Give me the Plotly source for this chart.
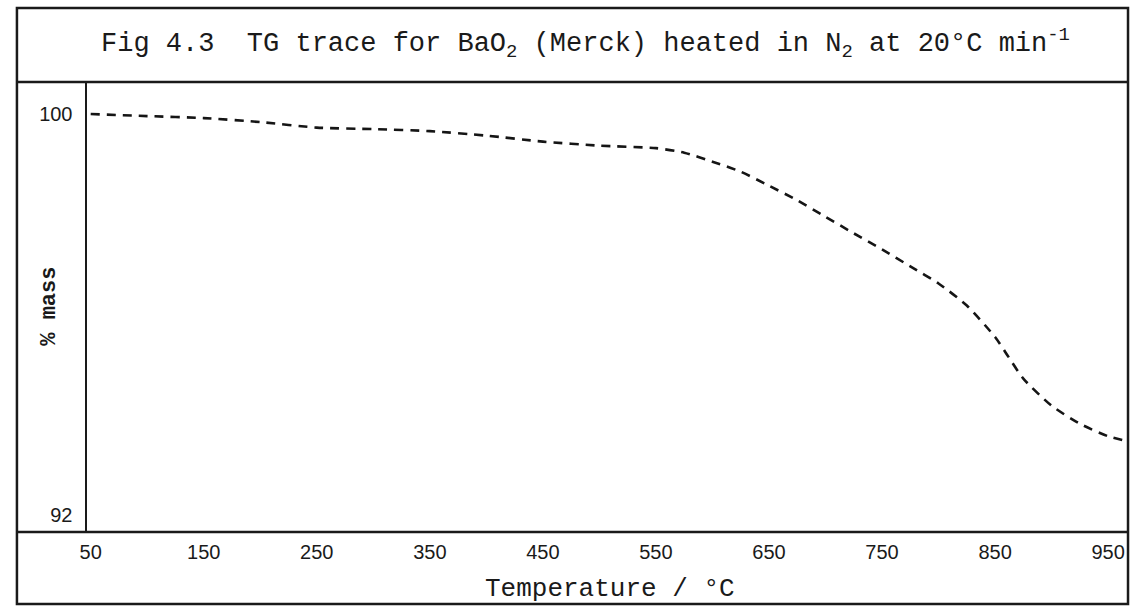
import plotly.graph_objects as go

# Data
temperature = [50, 100, 150, 200, 250, 300, 350, 400, 450, 500, 550, 575, 600, 625, 650,
               675, 700, 725, 750, 775, 800, 825, 850, 862, 875, 900, 925, 950, 967]
mass_pct = [100.0, 99.96, 99.92, 99.84, 99.73, 99.70, 99.66, 99.57, 99.45, 99.37, 99.32,
            99.23, 99.05, 98.85, 98.57, 98.28, 97.95, 97.62, 97.30, 96.96, 96.62, 96.18,
            95.55, 95.15, 94.72, 94.18, 93.82, 93.57, 93.47]

x_ticks = [50, 150, 250, 350, 450, 550, 650, 750, 850, 950]
y_ticks = [92, 100]

W, H = 1131, 606
def px(x): return x / W
def py(y): return 1 - y / H

fig = go.Figure()
fig.add_trace(go.Scatter(
    x=temperature, y=mass_pct, mode="lines",
    line=dict(color="#151515", width=2.6, dash="9px,7px", shape="spline", smoothing=0.6),
    hoverinfo="skip", showlegend=False))

mono = "Liberation Mono, Courier New, monospace"
sans = "Liberation Sans, Arial, sans-serif"

fig.update_layout(
    width=W, height=H,
    margin=dict(l=0, r=0, t=0, b=0),
    paper_bgcolor="white", plot_bgcolor="white",
    xaxis=dict(domain=[px(80), px(1128)], range=[46.3, 967.6],
               tickvals=x_ticks, ticktext=[str(v) for v in x_ticks],
               showgrid=False, zeroline=False, showline=False, ticks="",
               tickfont=dict(family=sans, size=20, color="#1a1a1a"), ticklabelstandoff=6),
    yaxis=dict(domain=[py(532), py(82)], range=[91.66, 100.64],
               tickvals=y_ticks, ticktext=[str(v) for v in y_ticks],
               showgrid=False, zeroline=False, showline=True, linecolor="#1a1a1a", linewidth=2,
               ticks="", tickfont=dict(family=sans, size=20, color="#1a1a1a"), ticklabelstandoff=8),
)

line = dict(color="#1a1a1a", width=2.5)
shapes = [
    # outer border
    dict(type="rect", xref="paper", yref="paper", x0=px(10), x1=px(1128), y0=py(604), y1=py(8), line=line),
    # title box bottom
    dict(type="line", xref="paper", yref="paper", x0=px(10), x1=px(1128), y0=py(82), y1=py(82), line=line),
    # x-axis band top
    dict(type="line", xref="paper", yref="paper", x0=px(10), x1=px(1128), y0=py(532), y1=py(532), line=line),
]
fig.update_layout(shapes=shapes)

fig.add_annotation(xref="paper", yref="paper", x=px(582), y=py(44), showarrow=False,
                   text="Fig 4.3  TG trace for BaO<sub>2</sub> (Merck) heated in N<sub>2</sub> at 20°C min<sup>-1</sup>",
                   font=dict(family=mono, size=27, color="#1a1a1a"), xanchor="center", yanchor="middle")
fig.add_annotation(xref="paper", yref="paper", x=px(607), y=py(589), showarrow=False,
                   text="Temperature / °C", font=dict(family=mono, size=26, color="#1a1a1a"),
                   xanchor="center", yanchor="middle")
fig.add_annotation(xref="paper", yref="paper", x=px(42), y=py(306), showarrow=False,
                   text="<b>% mass</b>", textangle=-90, font=dict(family=mono, size=22, color="#1a1a1a"),
                   xanchor="center", yanchor="middle")

fig.write_html("out.html")
